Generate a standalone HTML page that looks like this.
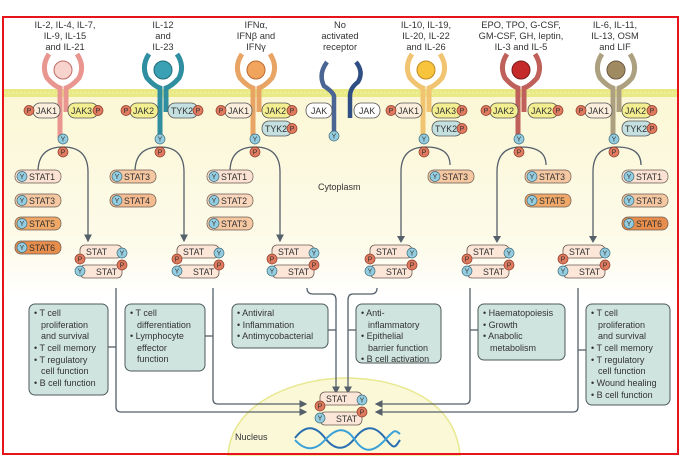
<!DOCTYPE html>
<html><head><meta charset="utf-8"><style>
html,body{margin:0;padding:0;background:#fff;}
svg{display:block;font-family:"Liberation Sans",sans-serif;}
.t{font-size:9.3px;fill:#333;text-anchor:middle}
.s{font-size:8.8px;fill:#333}
.b{font-size:9px;fill:#333}
.box{fill:#cfe4df;stroke:#4d5a5a;stroke-width:1}
.ln{fill:none;stroke:#55606a;stroke-width:1.3}
.P{fill:#e07a5f;stroke:#8a3a2a;stroke-width:.7}
.Y{fill:#95cde0;stroke:#3e6b7c;stroke-width:.7}
.pt{font-size:7px;fill:#333;text-anchor:middle}
.pill{stroke:#6a5a50;stroke-width:.7}
</style></head><body>
<svg width="684" height="461" viewBox="0 0 684 461">
<defs>
<linearGradient id="cy" x1="0" y1="0" x2="0" y2="1">
<stop offset="0" stop-color="#fbf7d6"/><stop offset=".75" stop-color="#fdfbea"/><stop offset="1" stop-color="#ffffff"/>
</linearGradient>
<marker id="ar" markerWidth="6" markerHeight="6" refX="5" refY="3" orient="auto"><path d="M0,0 L6,3 L0,6 z" fill="#55606a"/></marker>
</defs>
<rect x="4" y="97" width="673" height="200" fill="url(#cy)"/>
<rect x="4" y="89" width="673" height="8" fill="#e9ea86"/>
<line x1="4" y1="93" x2="677" y2="93" stroke="#f4f4b0" stroke-width="1" stroke-dasharray="2,2"/>
<path d="M228,455 C232,400 300,378 345,378 C400,378 455,400 460,455 Z" fill="#fbf8d8" stroke="#e8e890" stroke-width="1.5"/>
<text x="235" y="440" style="font-size:9px;fill:#333">Nucleus</text>
<text x="318" y="190" style="font-size:9px;fill:#333">Cytoplasm</text>

<text class="t" x="65" y="28">IL-2, IL-4, IL-7,</text><text class="t" x="65" y="39">IL-9, IL-15</text><text class="t" x="65" y="50">and IL-21</text>
<text class="t" x="163" y="28">IL-12</text><text class="t" x="163" y="39">and</text><text class="t" x="163" y="50">IL-23</text>
<text class="t" x="256" y="28">IFNα,</text><text class="t" x="256" y="39">IFNβ and</text><text class="t" x="256" y="50">IFNγ</text>
<text class="t" x="340" y="28">No</text><text class="t" x="340" y="39">activated</text><text class="t" x="340" y="50">receptor</text>
<text class="t" x="426" y="28">IL-10, IL-19,</text><text class="t" x="426" y="39">IL-20, IL-22</text><text class="t" x="426" y="50">and IL-26</text>
<text class="t" x="521" y="28">EPO, TPO, G-CSF,</text><text class="t" x="521" y="39">GM-CSF, GH, leptin,</text><text class="t" x="521" y="50">IL-3 and IL-5</text>
<text class="t" x="615" y="28">IL-6, IL-11,</text><text class="t" x="615" y="39">IL-13, OSM</text><text class="t" x="615" y="50">and LIF</text>

<g transform="translate(63,0)">
<circle cx="0" cy="70" r="9" fill="#f8d2cc" stroke="#c06a62"/>
<path d="M-14,54 Q-22,66 -16,78 Q-9,86 -3,88 L-3,138" fill="none" stroke="#e8968f" stroke-width="5"/>
<path d="M14,54 Q22,66 16,78 Q9,86 3,88 L3,112" fill="none" stroke="#e8968f" stroke-width="5"/>
</g>
<g transform="translate(163,0)">
<circle cx="0" cy="70" r="9" fill="#3aa0b4" stroke="#1f6b78"/>
<path d="M-14,54 Q-22,66 -16,78 Q-9,86 -3,88 L-3,138" fill="none" stroke="#2f8fa0" stroke-width="5"/>
<path d="M14,54 Q22,66 16,78 Q9,86 3,88 L3,112" fill="none" stroke="#2f8fa0" stroke-width="5"/>
</g>
<g transform="translate(256,0)">
<circle cx="0" cy="70" r="9" fill="#f0a45c" stroke="#b86a30"/>
<path d="M-14,54 Q-22,66 -16,78 Q-9,86 -3,88 L-3,138" fill="none" stroke="#e8a464" stroke-width="5"/>
<path d="M14,54 Q22,66 16,78 Q9,86 3,88 L3,112" fill="none" stroke="#e8a464" stroke-width="5"/>
</g>
<g transform="translate(426,0)">
<circle cx="0" cy="70" r="9" fill="#f8c43c" stroke="#c08a20"/>
<path d="M-14,54 Q-22,66 -16,78 Q-9,86 -3,88 L-3,138" fill="none" stroke="#f0c470" stroke-width="5"/>
<path d="M14,54 Q22,66 16,78 Q9,86 3,88 L3,112" fill="none" stroke="#f0c470" stroke-width="5"/>
</g>
<g transform="translate(521,0)">
<circle cx="0" cy="70" r="9" fill="#c42a2a" stroke="#7a1a1a"/>
<path d="M-14,54 Q-22,66 -16,78 Q-9,86 -3,88 L-3,138" fill="none" stroke="#c0605a" stroke-width="5"/>
<path d="M14,54 Q22,66 16,78 Q9,86 3,88 L3,112" fill="none" stroke="#c0605a" stroke-width="5"/>
</g>
<g transform="translate(616,0)">
<circle cx="0" cy="70" r="9" fill="#a08a62" stroke="#6a5a40"/>
<path d="M-14,54 Q-22,66 -16,78 Q-9,86 -3,88 L-3,138" fill="none" stroke="#aca080" stroke-width="5"/>
<path d="M14,54 Q22,66 16,78 Q9,86 3,88 L3,112" fill="none" stroke="#aca080" stroke-width="5"/>
</g>
<path d="M327,62 Q318,74 324,86 Q333,92 334,96 L334,136" fill="none" stroke="#4a6494" stroke-width="4.5"/>
<path d="M356,62 Q364,72 358,82 Q350,88 350,96 L350,118" fill="none" stroke="#2e4e84" stroke-width="4.5"/>
<rect x="306" y="103" width="26" height="15" rx="7" fill="#fff" stroke="#555" stroke-width=".8"/><text class="s" x="311" y="114">JAK</text>
<rect x="354" y="103" width="26" height="15" rx="7" fill="#fff" stroke="#555" stroke-width=".8"/><text class="s" x="359" y="114">JAK</text>
<circle class="Y" cx="334" cy="136" r="5"/><text class="pt" x="334" y="138.5">Y</text>

<g class="s">
<rect x="33" y="103" width="27" height="15" rx="7" fill="#fbeedd" stroke="#555" stroke-width=".8"/><text x="36" y="114">JAK1</text>
<rect x="68" y="103" width="30" height="15" rx="7" fill="#f3ee90" stroke="#555" stroke-width=".8"/><text x="71" y="114">JAK3</text>
<rect x="130" y="103" width="28" height="15" rx="7" fill="#f3ee90" stroke="#555" stroke-width=".8"/><text x="133" y="114">JAK2</text>
<rect x="168" y="103" width="30" height="15" rx="7" fill="#c4e0e0" stroke="#555" stroke-width=".8"/><text x="171" y="114">TYK2</text>
<rect x="225" y="103" width="27" height="15" rx="7" fill="#fbeedd" stroke="#555" stroke-width=".8"/><text x="228" y="114">JAK1</text>
<rect x="262" y="103" width="30" height="15" rx="7" fill="#f3ee90" stroke="#555" stroke-width=".8"/><text x="265" y="114">JAK2</text>
<rect x="262" y="121" width="30" height="15" rx="7" fill="#c4e0e0" stroke="#555" stroke-width=".8"/><text x="265" y="132">TYK2</text>
<rect x="395" y="103" width="27" height="15" rx="7" fill="#fbeedd" stroke="#555" stroke-width=".8"/><text x="398" y="114">JAK1</text>
<rect x="432" y="103" width="30" height="15" rx="7" fill="#f3ee90" stroke="#555" stroke-width=".8"/><text x="435" y="114">JAK3</text>
<rect x="432" y="121" width="30" height="15" rx="7" fill="#c4e0e0" stroke="#555" stroke-width=".8"/><text x="435" y="132">TYK2</text>
<rect x="490" y="103" width="28" height="15" rx="7" fill="#f3ee90" stroke="#555" stroke-width=".8"/><text x="493" y="114">JAK2</text>
<rect x="528" y="103" width="30" height="15" rx="7" fill="#f3ee90" stroke="#555" stroke-width=".8"/><text x="531" y="114">JAK2</text>
<rect x="585" y="103" width="27" height="15" rx="7" fill="#fbeedd" stroke="#555" stroke-width=".8"/><text x="588" y="114">JAK1</text>
<rect x="622" y="103" width="30" height="15" rx="7" fill="#f3ee90" stroke="#555" stroke-width=".8"/><text x="625" y="114">JAK2</text>
<rect x="622" y="121" width="30" height="15" rx="7" fill="#c4e0e0" stroke="#555" stroke-width=".8"/><text x="625" y="132">TYK2</text>
</g>
<g>
<circle class="P" cx="29" cy="110.5" r="5"/><circle class="P" cx="98" cy="110.5" r="5"/>
<circle class="P" cx="126" cy="110.5" r="5"/><circle class="P" cx="198" cy="110.5" r="5"/>
<circle class="P" cx="221" cy="110.5" r="5"/><circle class="P" cx="292" cy="110.5" r="5"/><circle class="P" cx="292" cy="128.5" r="5"/>
<circle class="P" cx="391" cy="110.5" r="5"/><circle class="P" cx="462" cy="110.5" r="5"/><circle class="P" cx="462" cy="128.5" r="5"/>
<circle class="P" cx="486" cy="110.5" r="5"/><circle class="P" cx="558" cy="110.5" r="5"/>
<circle class="P" cx="581" cy="110.5" r="5"/><circle class="P" cx="652" cy="110.5" r="5"/><circle class="P" cx="652" cy="128.5" r="5"/>
</g>
<g class="pt">
<text x="29" y="113">P</text><text x="98" y="113">P</text><text x="126" y="113">P</text><text x="198" y="113">P</text>
<text x="221" y="113">P</text><text x="292" y="113">P</text><text x="292" y="131">P</text>
<text x="391" y="113">P</text><text x="462" y="113">P</text><text x="462" y="131">P</text>
<text x="486" y="113">P</text><text x="558" y="113">P</text>
<text x="581" y="113">P</text><text x="652" y="113">P</text><text x="652" y="131">P</text>
</g>

<g class="ln">
<path d="M38,172 Q38,147 63,147 Q88,147 88,172 L88,241" marker-end="url(#ar)"/>
<path d="M135,172 Q135,147 160,147 Q184,147 184,172 L184,241" marker-end="url(#ar)"/>
<path d="M230,172 Q230,147 255,147 Q280,147 280,172 L280,241" marker-end="url(#ar)"/>
<path d="M401,238 L401,172 Q401,147 426,147 Q450,147 450,165"/>
<path d="M497,238 L497,172 Q497,147 521,147 Q546,147 546,165"/>
<path d="M593,238 L593,172 Q593,147 617,147 Q641,147 641,165"/>
</g>
<path d="M397,236 L401,243 L405,236 z" fill="#55606a"/>
<path d="M493,236 L497,243 L501,236 z" fill="#55606a"/>
<path d="M589,236 L593,243 L597,236 z" fill="#55606a"/>
<g>
<circle class="Y" cx="63" cy="139" r="5"/><circle class="P" cx="63" cy="152" r="5"/>
<circle class="Y" cx="160" cy="139" r="5"/><circle class="P" cx="160" cy="152" r="5"/>
<circle class="Y" cx="255" cy="139" r="5"/><circle class="P" cx="255" cy="152" r="5"/>
<circle class="Y" cx="424" cy="139" r="5"/><circle class="P" cx="424" cy="152" r="5"/>
<circle class="Y" cx="519" cy="139" r="5"/><circle class="P" cx="519" cy="152" r="5"/>
<circle class="Y" cx="614" cy="139" r="5"/><circle class="P" cx="614" cy="152" r="5"/>
</g>
<g class="pt">
<text x="63" y="141.5">Y</text><text x="63" y="154.5">P</text>
<text x="160" y="141.5">Y</text><text x="160" y="154.5">P</text>
<text x="255" y="141.5">Y</text><text x="255" y="154.5">P</text>
<text x="424" y="141.5">Y</text><text x="424" y="154.5">P</text>
<text x="519" y="141.5">Y</text><text x="519" y="154.5">P</text>
<text x="614" y="141.5">Y</text><text x="614" y="154.5">P</text>
</g>

<g>
<rect class="pill" x="15" y="170" width="46" height="13" rx="6" fill="#fbe2d2"/>
<rect class="pill" x="15" y="194" width="46" height="13" rx="6" fill="#f6c8a2"/>
<rect class="pill" x="15" y="217" width="46" height="13" rx="6" fill="#f0a868"/>
<rect class="pill" x="15" y="241" width="46" height="13" rx="6" fill="#e88e4c"/>
<rect class="pill" x="110" y="170" width="46" height="13" rx="6" fill="#f6c8a2"/>
<rect class="pill" x="110" y="194" width="46" height="13" rx="6" fill="#f4bb90"/>
<rect class="pill" x="207" y="170" width="46" height="13" rx="6" fill="#fbe2d2"/>
<rect class="pill" x="207" y="194" width="46" height="13" rx="6" fill="#fad6bc"/>
<rect class="pill" x="207" y="217" width="46" height="13" rx="6" fill="#f6c8a2"/>
<rect class="pill" x="428" y="170" width="46" height="13" rx="6" fill="#f6c8a2"/>
<rect class="pill" x="525" y="170" width="46" height="13" rx="6" fill="#f6c8a2"/>
<rect class="pill" x="525" y="194" width="46" height="13" rx="6" fill="#f0a868"/>
<rect class="pill" x="622" y="170" width="46" height="13" rx="6" fill="#fbe2d2"/>
<rect class="pill" x="622" y="194" width="46" height="13" rx="6" fill="#f6c8a2"/>
<rect class="pill" x="622" y="217" width="46" height="13" rx="6" fill="#e88e4c"/>
</g>
<g>
<circle class="Y" cx="22" cy="176.5" r="5"/><circle class="Y" cx="22" cy="200.5" r="5"/><circle class="Y" cx="22" cy="223.5" r="5"/><circle class="Y" cx="22" cy="247.5" r="5"/>
<circle class="Y" cx="117" cy="176.5" r="5"/><circle class="Y" cx="117" cy="200.5" r="5"/>
<circle class="Y" cx="214" cy="176.5" r="5"/><circle class="Y" cx="214" cy="200.5" r="5"/><circle class="Y" cx="214" cy="223.5" r="5"/>
<circle class="Y" cx="435" cy="176.5" r="5"/>
<circle class="Y" cx="532" cy="176.5" r="5"/><circle class="Y" cx="532" cy="200.5" r="5"/>
<circle class="Y" cx="629" cy="176.5" r="5"/><circle class="Y" cx="629" cy="200.5" r="5"/><circle class="Y" cx="629" cy="223.5" r="5"/>
</g>
<g class="pt">
<text x="22" y="179">Y</text><text x="22" y="203">Y</text><text x="22" y="226">Y</text><text x="22" y="250">Y</text>
<text x="117" y="179">Y</text><text x="117" y="203">Y</text>
<text x="214" y="179">Y</text><text x="214" y="203">Y</text><text x="214" y="226">Y</text>
<text x="435" y="179">Y</text>
<text x="532" y="179">Y</text><text x="532" y="203">Y</text>
<text x="629" y="179">Y</text><text x="629" y="203">Y</text><text x="629" y="226">Y</text>
</g>
<g class="s">
<text x="29" y="180">STAT1</text><text x="29" y="204">STAT3</text><text x="29" y="227">STAT5</text><text x="29" y="251">STAT6</text>
<text x="124" y="180">STAT3</text><text x="124" y="204">STAT4</text>
<text x="221" y="180">STAT1</text><text x="221" y="204">STAT2</text><text x="221" y="227">STAT3</text>
<text x="442" y="180">STAT3</text>
<text x="539" y="180">STAT3</text><text x="539" y="204">STAT5</text>
<text x="636" y="180">STAT1</text><text x="636" y="204">STAT3</text><text x="636" y="227">STAT6</text>
</g>

<g>
<rect x="80" y="245" width="42" height="13" rx="5" fill="#fce6d8" stroke="#6a5a50" stroke-width=".8"/>
<rect x="80" y="265" width="42" height="13" rx="5" fill="#fce6d8" stroke="#6a5a50" stroke-width=".8"/>
<text class="s" x="86" y="255">STAT</text><text class="s" x="96" y="275">STAT</text>
<circle class="P" cx="80" cy="259" r="5"/><circle class="Y" cx="80" cy="271" r="5"/>
<circle class="Y" cx="122" cy="253" r="5"/><circle class="P" cx="122" cy="265" r="5"/>
<text class="pt" x="80" y="261.5">P</text><text class="pt" x="80" y="273.5">Y</text>
<text class="pt" x="122" y="255.5">Y</text><text class="pt" x="122" y="267.5">P</text>
</g>
<g transform="translate(97,0)">
<rect x="80" y="245" width="42" height="13" rx="5" fill="#fce6d8" stroke="#6a5a50" stroke-width=".8"/>
<rect x="80" y="265" width="42" height="13" rx="5" fill="#fce6d8" stroke="#6a5a50" stroke-width=".8"/>
<text class="s" x="86" y="255">STAT</text><text class="s" x="96" y="275">STAT</text>
<circle class="P" cx="80" cy="259" r="5"/><circle class="Y" cx="80" cy="271" r="5"/>
<circle class="Y" cx="122" cy="253" r="5"/><circle class="P" cx="122" cy="265" r="5"/>
<text class="pt" x="80" y="261.5">P</text><text class="pt" x="80" y="273.5">Y</text>
<text class="pt" x="122" y="255.5">Y</text><text class="pt" x="122" y="267.5">P</text>
</g>
<g transform="translate(192,0)">
<rect x="80" y="245" width="42" height="13" rx="5" fill="#fce6d8" stroke="#6a5a50" stroke-width=".8"/>
<rect x="80" y="265" width="42" height="13" rx="5" fill="#fce6d8" stroke="#6a5a50" stroke-width=".8"/>
<text class="s" x="86" y="255">STAT</text><text class="s" x="96" y="275">STAT</text>
<circle class="P" cx="80" cy="259" r="5"/><circle class="Y" cx="80" cy="271" r="5"/>
<circle class="Y" cx="122" cy="253" r="5"/><circle class="P" cx="122" cy="265" r="5"/>
<text class="pt" x="80" y="261.5">P</text><text class="pt" x="80" y="273.5">Y</text>
<text class="pt" x="122" y="255.5">Y</text><text class="pt" x="122" y="267.5">P</text>
</g>
<g transform="translate(290,0)">
<rect x="80" y="245" width="42" height="13" rx="5" fill="#fce6d8" stroke="#6a5a50" stroke-width=".8"/>
<rect x="80" y="265" width="42" height="13" rx="5" fill="#fce6d8" stroke="#6a5a50" stroke-width=".8"/>
<text class="s" x="86" y="255">STAT</text><text class="s" x="96" y="275">STAT</text>
<circle class="P" cx="80" cy="259" r="5"/><circle class="Y" cx="80" cy="271" r="5"/>
<circle class="Y" cx="122" cy="253" r="5"/><circle class="P" cx="122" cy="265" r="5"/>
<text class="pt" x="80" y="261.5">P</text><text class="pt" x="80" y="273.5">Y</text>
<text class="pt" x="122" y="255.5">Y</text><text class="pt" x="122" y="267.5">P</text>
</g>
<g transform="translate(387,0)">
<rect x="80" y="245" width="42" height="13" rx="5" fill="#fce6d8" stroke="#6a5a50" stroke-width=".8"/>
<rect x="80" y="265" width="42" height="13" rx="5" fill="#fce6d8" stroke="#6a5a50" stroke-width=".8"/>
<text class="s" x="86" y="255">STAT</text><text class="s" x="96" y="275">STAT</text>
<circle class="P" cx="80" cy="259" r="5"/><circle class="Y" cx="80" cy="271" r="5"/>
<circle class="Y" cx="122" cy="253" r="5"/><circle class="P" cx="122" cy="265" r="5"/>
<text class="pt" x="80" y="261.5">P</text><text class="pt" x="80" y="273.5">Y</text>
<text class="pt" x="122" y="255.5">Y</text><text class="pt" x="122" y="267.5">P</text>
</g>
<g transform="translate(483,0)">
<rect x="80" y="245" width="42" height="13" rx="5" fill="#fce6d8" stroke="#6a5a50" stroke-width=".8"/>
<rect x="80" y="265" width="42" height="13" rx="5" fill="#fce6d8" stroke="#6a5a50" stroke-width=".8"/>
<text class="s" x="86" y="255">STAT</text><text class="s" x="96" y="275">STAT</text>
<circle class="P" cx="80" cy="259" r="5"/><circle class="Y" cx="80" cy="271" r="5"/>
<circle class="Y" cx="122" cy="253" r="5"/><circle class="P" cx="122" cy="265" r="5"/>
<text class="pt" x="80" y="261.5">P</text><text class="pt" x="80" y="273.5">Y</text>
<text class="pt" x="122" y="255.5">Y</text><text class="pt" x="122" y="267.5">P</text>
</g>

<g class="ln">
<path d="M116,288 L116,407 Q116,412 121,412 L306,412" marker-end="url(#ar)"/>
<path d="M213,288 L213,399 Q213,404 218,404 L306,404" marker-end="url(#ar)"/>
<path d="M307,288 Q307,294 313,294 L331,294 Q336,294 336,300 L336,393" marker-end="url(#ar)"/>
<path d="M377,288 Q377,294 371,294 L353,294 Q348,294 348,300 L348,393" marker-end="url(#ar)"/>
<path d="M470,288 L470,399 Q470,404 465,404 L376,404" marker-end="url(#ar)"/>
<path d="M578,288 L578,407 Q578,412 573,412 L376,412" marker-end="url(#ar)"/>
<path d="M108,347 L116,347"/><path d="M205,336 L213,336"/><path d="M328,330 L336,330"/>
<path d="M356,330 L348,330"/><path d="M478,330 L470,330"/><path d="M586,350 L578,350"/>
</g>

<g fill="none" stroke-width="2">
<path d="M295,438 C305,425 315,425 325,438 S345,451 355,438 S375,425 385,438 S395,447 400,440" stroke="#2a6fb0"/>
<path d="M295,440 C305,451 315,451 325,440 S345,425 355,440 S375,451 385,440 S395,430 400,434" stroke="#3aa0d8"/>
</g>
<g transform="translate(240,147)">
<rect x="80" y="245" width="42" height="13" rx="5" fill="#fce6d8" stroke="#6a5a50" stroke-width=".8"/>
<rect x="80" y="265" width="42" height="13" rx="5" fill="#fce6d8" stroke="#6a5a50" stroke-width=".8"/>
<text class="s" x="86" y="255">STAT</text><text class="s" x="96" y="275">STAT</text>
<circle class="P" cx="80" cy="259" r="5"/><circle class="Y" cx="80" cy="271" r="5"/>
<circle class="Y" cx="122" cy="253" r="5"/><circle class="P" cx="122" cy="265" r="5"/>
<text class="pt" x="80" y="261.5">P</text><text class="pt" x="80" y="273.5">Y</text>
<text class="pt" x="122" y="255.5">Y</text><text class="pt" x="122" y="267.5">P</text>
</g>

<rect class="box" x="29" y="304" width="79" height="91" rx="6"/>
<g class="b"><text x="34" y="316">• T cell</text><text x="41" y="328">proliferation</text><text x="41" y="339">and survival</text><text x="34" y="351">• T cell memory</text><text x="34" y="363">• T regulatory</text><text x="41" y="374">cell function</text><text x="34" y="386">• B cell function</text></g>
<rect class="box" x="125" y="304" width="80" height="67" rx="6"/>
<g class="b"><text x="130" y="316">• T cell</text><text x="137" y="328">differentiation</text><text x="130" y="339">• Lymphocyte</text><text x="137" y="351">effector</text><text x="137" y="362">function</text></g>
<rect class="box" x="232" y="304" width="96" height="44" rx="6"/>
<g class="b"><text x="237" y="316">• Antiviral</text><text x="237" y="328">• Inflammation</text><text x="237" y="339">• Antimycobacterial</text></g>
<rect class="box" x="356" y="304" width="85" height="59" rx="6"/>
<g class="b"><text x="361" y="316">• Anti-</text><text x="368" y="328">inflammatory</text><text x="361" y="339">• Epithelial</text><text x="368" y="351">barrier function</text><text x="361" y="362">• B cell activation</text></g>
<rect class="box" x="478" y="304" width="87" height="56" rx="6"/>
<g class="b"><text x="483" y="316">• Haematopoiesis</text><text x="483" y="328">• Growth</text><text x="483" y="339">• Anabolic</text><text x="490" y="351">metabolism</text></g>
<rect class="box" x="586" y="304" width="84" height="101" rx="6"/>
<g class="b"><text x="591" y="316">• T cell</text><text x="598" y="328">proliferation</text><text x="598" y="339">and survival</text><text x="591" y="351">• T cell memory</text><text x="591" y="363">• T regulatory</text><text x="598" y="374">cell function</text><text x="591" y="386">• Wound healing</text><text x="591" y="398">• B cell function</text></g>

<rect x="3" y="17" width="675" height="437" fill="none" stroke="#e8141c" stroke-width="2"/>
</svg>
</body></html>
